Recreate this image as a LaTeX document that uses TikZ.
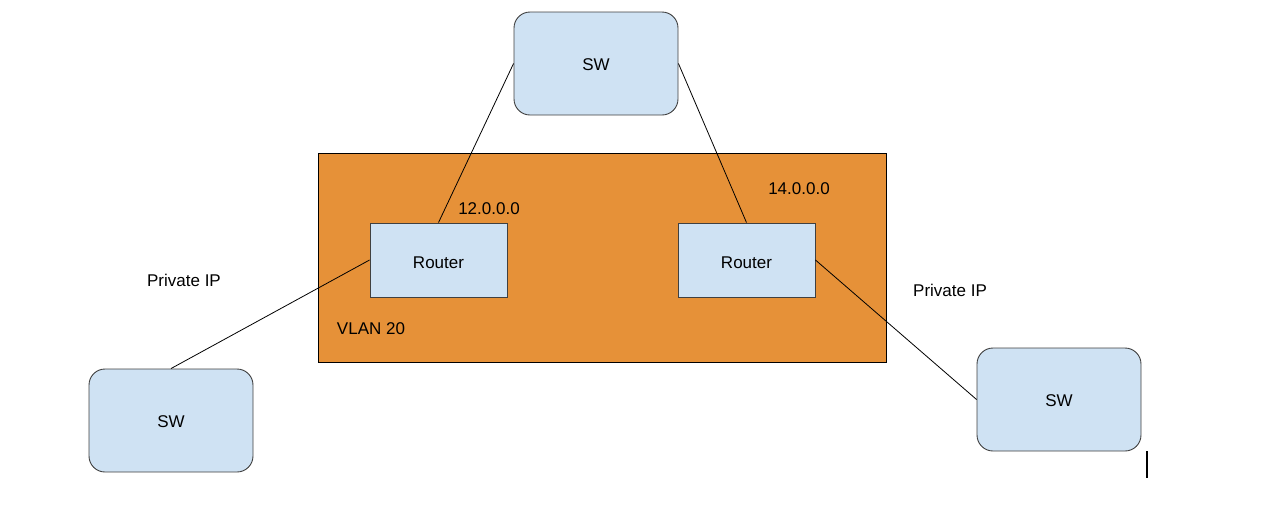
\documentclass[tikz,border=0pt]{standalone}
\usepackage{fontspec}
\setmainfont{Liberation Sans}
\definecolor{boxblue}{HTML}{CFE2F3}
\definecolor{vlanorange}{HTML}{E69138}
\definecolor{edge}{HTML}{404040}
\begin{document}
\begin{tikzpicture}[x=1pt,y=-1pt,
  swbox/.style={draw=edge, fill=boxblue, rounded corners=16pt, line width=0.9pt,
     minimum width=164pt, minimum height=103pt, inner sep=0pt, text height=14pt, text depth=0pt,
     font=\fontsize{17}{20}\selectfont},
  routerbox/.style={draw=edge, fill=boxblue, line width=0.9pt,
     minimum width=137pt, minimum height=74pt, inner sep=0pt, text height=16pt, text depth=0pt,
     font=\fontsize{17}{20}\selectfont},
  lbl/.style={inner sep=0pt, font=\fontsize{17}{20}\selectfont},
  link/.style={draw=black, line width=0.8pt}]
\useasboundingbox (0,0) rectangle (1287,531);
\node[draw=black, fill=vlanorange, line width=0.9pt, minimum width=568pt, minimum height=209pt, inner sep=0pt] (vlan) at (602,257.5) {};
\node[swbox] (swtop) at (596,63.5) {SW};
\node[swbox] (swleft) at (171,420.5) {SW};
\node[swbox] (swright) at (1059,399.5) {SW};
\node[routerbox] (r1) at (438.5,260) {Router};
\node[routerbox] (r2) at (746.5,260) {Router};
\node[lbl] (ip12) at (489,208.5) {12.0.0.0};
\node[lbl] (ip14) at (799,188.5) {14.0.0.0};
\node[lbl] (pl) at (184,280) {Private IP};
\node[lbl] (pr) at (950,290) {Private IP};
\node[lbl] (vl) at (371,328.5) {VLAN 20};
\draw[link] (swtop.west) -- (r1.north);
\draw[link] (swtop.east) -- (r2.north);
\draw[link] (r1.west) -- (swleft.north);
\draw[link] (r2.east) -- (swright.west);
\coordinate (bartop) at (1147,451);
\coordinate (barbot) at (1147,478);
\draw[line width=2.8pt] (bartop) -- (barbot);
\end{tikzpicture}
\end{document}
